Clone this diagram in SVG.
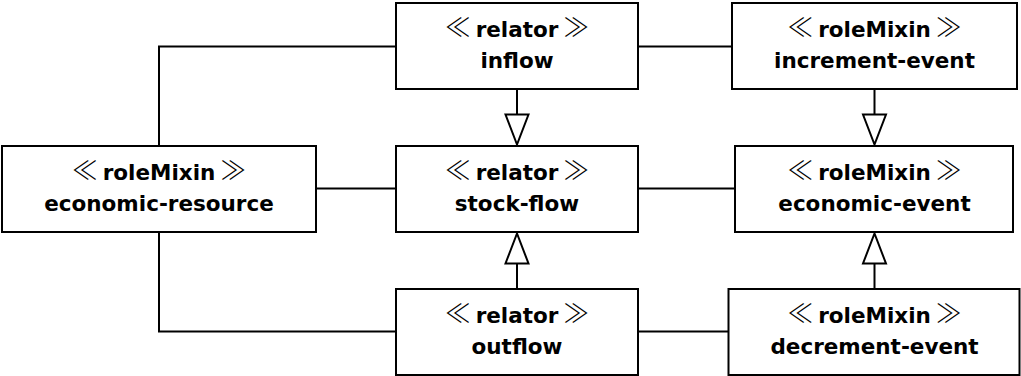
<svg xmlns="http://www.w3.org/2000/svg" width="1021" height="376" viewBox="0 0 1021 376">
<style>
.box{fill:#fff;stroke:#000;stroke-width:2}
.ln{fill:none;stroke:#000;stroke-width:2}
.tri{fill:#fff;stroke:#000;stroke-width:2;stroke-linejoin:miter}
text{font-family:"DejaVu Sans","Liberation Sans",sans-serif;font-size:21.5px;text-anchor:middle;fill:#000}
.st{font-family:"Noto Sans CJK JP","DejaVu Sans",sans-serif;font-weight:300;font-size:26px}
.b{font-weight:bold}
</style>
<rect width="1021" height="376" fill="#fff"/>
<g id="connectors">
<polyline class="ln" points="396,46.5 159,46.5 159,146"/>
<line class="ln" x1="316" y1="188.5" x2="396" y2="188.5"/>
<polyline class="ln" points="159,232 159,331.5 396,331.5"/>
<line class="ln" x1="638" y1="46.5" x2="732" y2="46.5"/>
<line class="ln" x1="638" y1="188.5" x2="735" y2="188.5"/>
<line class="ln" x1="638" y1="331.5" x2="728.5" y2="331.5"/>
<line class="ln" x1="517" y1="89" x2="517" y2="114.5"/>
<polygon class="tri" points="505.5,114.5 528.5,114.5 517,144.5"/>
<line class="ln" x1="874.5" y1="89" x2="874.5" y2="114.5"/>
<polygon class="tri" points="863,114.5 886,114.5 874.5,144.5"/>
<line class="ln" x1="517" y1="289" x2="517" y2="263.5"/>
<polygon class="tri" points="505.5,263.5 528.5,263.5 517,233.5"/>
<line class="ln" x1="874.5" y1="289" x2="874.5" y2="263.5"/>
<polygon class="tri" points="863,263.5 886,263.5 874.5,233.5"/>
</g>
<g id="economic-resource">
<rect class="box" x="2" y="146" width="314" height="86"/>
<text x="159" y="180"><tspan class="st">≪</tspan><tspan class="b" dx="5">roleMixin</tspan><tspan class="st" dx="5">≫</tspan></text>
<text class="b" x="159" y="211">economic-resource</text>
</g>
<g id="inflow">
<rect class="box" x="396" y="3" width="242" height="86"/>
<text x="517" y="37"><tspan class="st">≪</tspan><tspan class="b" dx="5">relator</tspan><tspan class="st" dx="5">≫</tspan></text>
<text class="b" x="517" y="68">inflow</text>
</g>
<g id="stock-flow">
<rect class="box" x="396" y="146" width="242" height="86"/>
<text x="517" y="180"><tspan class="st">≪</tspan><tspan class="b" dx="5">relator</tspan><tspan class="st" dx="5">≫</tspan></text>
<text class="b" x="517" y="211">stock-flow</text>
</g>
<g id="outflow">
<rect class="box" x="396" y="289" width="242" height="86"/>
<text x="517" y="323"><tspan class="st">≪</tspan><tspan class="b" dx="5">relator</tspan><tspan class="st" dx="5">≫</tspan></text>
<text class="b" x="517" y="354">outflow</text>
</g>
<g id="increment-event">
<rect class="box" x="732" y="3" width="285" height="86"/>
<text x="874.5" y="37"><tspan class="st">≪</tspan><tspan class="b" dx="5">roleMixin</tspan><tspan class="st" dx="5">≫</tspan></text>
<text class="b" x="874.5" y="68">increment-event</text>
</g>
<g id="economic-event">
<rect class="box" x="735" y="146" width="278" height="86"/>
<text x="874.5" y="180"><tspan class="st">≪</tspan><tspan class="b" dx="5">roleMixin</tspan><tspan class="st" dx="5">≫</tspan></text>
<text class="b" x="874.5" y="211">economic-event</text>
</g>
<g id="decrement-event">
<rect class="box" x="728.5" y="289" width="291" height="86"/>
<text x="874.5" y="323"><tspan class="st">≪</tspan><tspan class="b" dx="5">roleMixin</tspan><tspan class="st" dx="5">≫</tspan></text>
<text class="b" x="874.5" y="354">decrement-event</text>
</g>
</svg>
